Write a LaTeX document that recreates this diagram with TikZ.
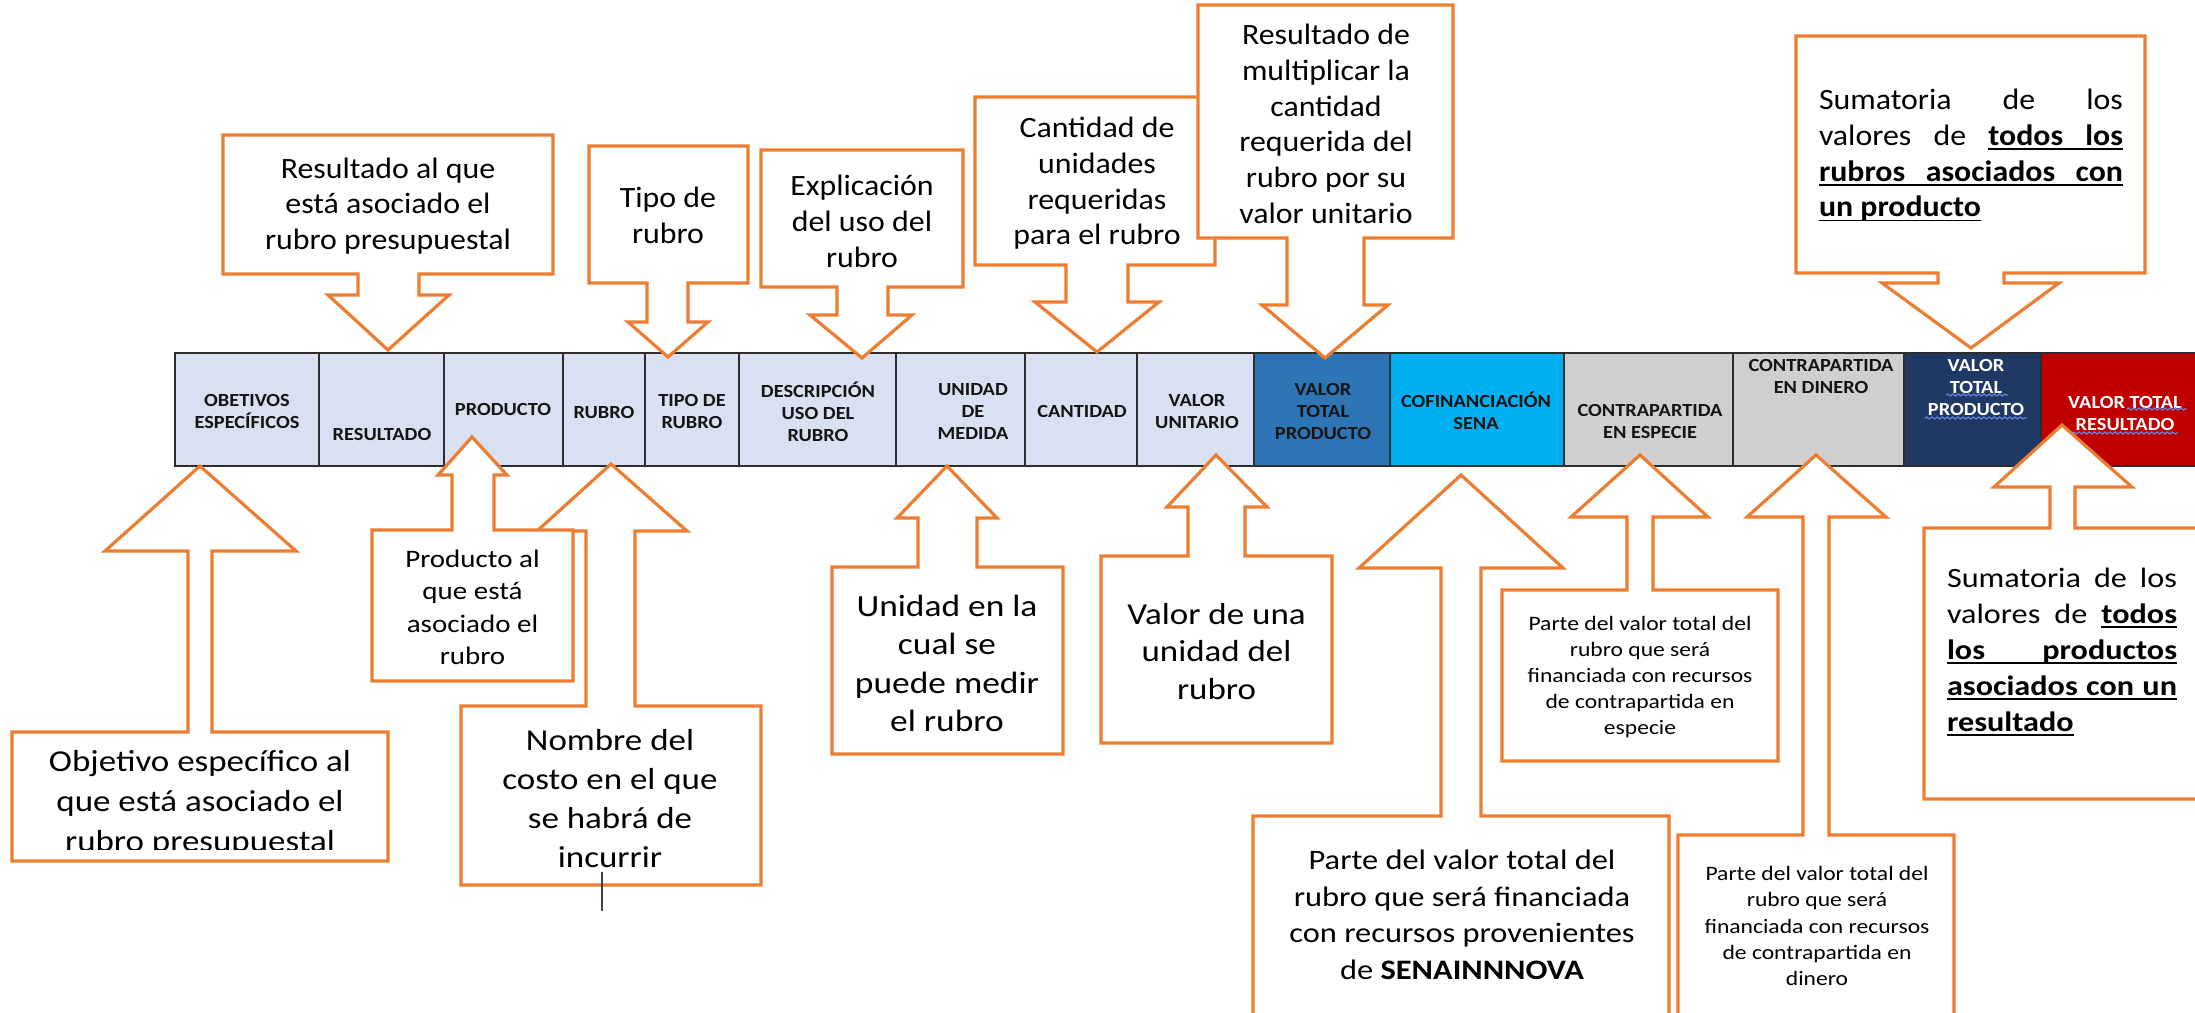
\documentclass[tikz,border=0pt]{standalone}
\usepackage{fontspec}
\setmainfont{Carlito}
\newfontfamily\tabf[FakeStretch=1.1]{Carlito}
\newfontfamily\topf[FakeStretch=1.08]{Carlito}
\newfontfamily\botf[FakeStretch=1.15]{Carlito}
\usetikzlibrary{decorations.pathmorphing}
\definecolor{orng}{RGB}{237,125,49}
\definecolor{lav}{RGB}{217,224,242}
\definecolor{midblue}{RGB}{46,117,182}
\definecolor{cyanb}{RGB}{0,176,240}
\definecolor{greyc}{RGB}{208,206,206}
\definecolor{navyc}{RGB}{32,56,100}
\definecolor{redc}{RGB}{192,0,0}
\definecolor{tabline}{RGB}{45,45,45}
\definecolor{squig}{RGB}{100,130,220}
\newcommand\setfs[2]{\fontsize{#1}{#2}\selectfont}
% justified-line helpers (own underline)
\newsavebox\ulbox
\newcommand\js{\hskip 0.23em plus 1fil\relax}
\newcommand\jus{\leaders\hrule height -1.3pt depth 2.2pt\hskip 0.23em plus 1fil\relax}
\newcommand\uw[1]{\sbox\ulbox{#1}\rlap{\vrule height -1.3pt depth 2.2pt width \wd\ulbox}\usebox\ulbox}
\tikzset{
  callout/.style={draw=orng, fill=white, line width=1.6pt, line join=miter},
  tcell/.style={draw=tabline, line width=1pt},
  celltxt/.style={align=center, inner sep=0pt, text=black!92, font={\tabf\setfs{9.25pt}{11pt}\bfseries}},
  toptxt/.style={align=center, inner sep=0pt, text=black, font={\topf\setfs{14.75pt}{17.85pt}}},
  bottxt/.style={align=center, inner sep=0pt, text=black},
  wavy/.style={draw=squig, line width=0.6pt, decorate, decoration={snake, amplitude=0.5pt, segment length=2.6pt}}
}
\begin{document}
\begin{tikzpicture}[x=0.5pt, y=-0.5pt]
\useasboundingbox (0,0) rectangle (2195,1012);
\clip (0,0) rectangle (2195,1012);
\fill[white] (0,0) rectangle (2195,1012);

% ---- table cells ----
\foreach \a/\b/\c in {175/319/lav, 319/444/lav, 444/563/lav, 563/645/lav, 645/739/lav, 739/896/lav, 896/1025/lav, 1025/1137/lav, 1137/1254/lav, 1254/1390/midblue, 1390/1564/cyanb, 1564/1733/greyc, 1733/1904/greyc, 1904/2041/navyc, 2041/2210/redc}
  \filldraw[tcell, fill=\c] (\a,353) rectangle (\b,466);

\node[celltxt] (h1) at (247,411) {OBETIVOS\\ESPECÍFICOS};
\node[celltxt] (h2) at (382,434) {RESULTADO};
\node[celltxt] (h3) at (503,409) {PRODUCTO};
\node[celltxt] (h4) at (604,412) {RUBRO};
\node[celltxt] (h5) at (692,411) {TIPO DE\\RUBRO};
\node[celltxt] (h6) at (818,411.5) {DESCRIPCIÓN\\USO DEL\\RUBRO};
\node[celltxt] (h7) at (973,411) {UNIDAD\\DE\\MEDIDA};
\node[celltxt] (h8) at (1082,411) {CANTIDAD};
\node[celltxt] (h9) at (1197,411) {VALOR\\UNITARIO};
\node[celltxt] (h10) at (1323,411) {VALOR\\TOTAL\\PRODUCTO};
\node[celltxt] (h11) at (1476,411) {COFINANCIACIÓN\\SENA};
\node[celltxt] (h12) at (1650,421.5) {CONTRAPARTIDA\\EN ESPECIE};
\node[celltxt] (h13) at (1821,376) {CONTRAPARTIDA\\EN DINERO};
\node[celltxt, text=white] (h14) at (1976,387.5) {VALOR\\TOTAL\\PRODUCTO};
\node[celltxt, text=white] (h15) at (2125,413) {VALOR TOTAL\\RESULTADO};

% spell-check squiggles
\draw[wavy] (1946,395) -- (2008,395);
\draw[wavy] (1925,418) -- (2027,418);
\draw[wavy] (2127,409) -- (2187,409);
\draw[wavy] (2072,433) -- (2178,433);

% ---- top callouts (pointing down) ----
\draw[callout] (223,135) -- (553,135) -- (553,274) -- (419,274) -- (419,295) -- (449,295) -- (388,350) -- (328,295) -- (358,295) -- (358,274) -- (223,274) -- cycle;
\draw[callout] (589,146) -- (748,146) -- (748,283) -- (688,283) -- (688,322) -- (708,322) -- (668,357) -- (628,322) -- (647,322) -- (647,283) -- (589,283) -- cycle;
\draw[callout] (761,150) -- (963,150) -- (963,287) -- (888,287) -- (888,315) -- (912,315) -- (862,358) -- (810,315) -- (837,315) -- (837,287) -- (761,287) -- cycle;
\draw[callout] (975,97) -- (1215,97) -- (1215,265) -- (1128,265) -- (1128,302) -- (1159,302) -- (1097,352) -- (1035,302) -- (1066,302) -- (1066,265) -- (975,265) -- cycle;
\draw[callout] (1198,5) -- (1453,5) -- (1453,238) -- (1364,238) -- (1364,305) -- (1388,305) -- (1325,358) -- (1262,305) -- (1287,305) -- (1287,238) -- (1198,238) -- cycle;
\draw[callout] (1796,36) -- (2145,36) -- (2145,273) -- (2004,273) -- (2004,283) -- (2059,283) -- (1971,348) -- (1882,283) -- (1938,283) -- (1938,273) -- (1796,273) -- cycle;

\node[toptxt] (t1) at (388,206) {Resultado al que\\está asociado el\\rubro presupuestal};
\node[toptxt] (t2) at (668,215.5) {Tipo de\\rubro};
\node[toptxt] (t3) at (862,221.5) {Explicación\\del uso del\\rubro};
\node[toptxt] (t4) at (1097,183.5) {Cantidad de\\unidades\\requeridas\\para el rubro};
\node[toptxt] (t5) at (1326,124) {Resultado de\\multiplicar la\\cantidad\\requerida del\\rubro por su\\valor unitario};
\node[toptxt, align=left] (t6) at (1971,155.5) {%
  \makebox[152pt][s]{Sumatoria\js de\js los}\\
  \makebox[152pt][s]{valores\js de\js \textbf{\uw{todos}\jus\uw{los}}}\\
  \makebox[152pt][s]{\textbf{\uw{rubros}\jus\uw{asociados}\jus\uw{con}}}\\
  \makebox[152pt][l]{\textbf{\uw{un producto}}}};

% ---- bottom callouts (pointing up) ----
\draw[callout] (12,732) -- (188,732) -- (188,551) -- (105,551) -- (200,466) -- (296,551) -- (212,551) -- (212,732) -- (388,732) -- (388,861) -- (12,861) -- cycle;
\draw[callout] (461,706) -- (586,706) -- (586,531) -- (537,531) -- (611,464) -- (687,531) -- (635,531) -- (635,706) -- (761,706) -- (761,885) -- (461,885) -- cycle;
\draw[callout] (372,530) -- (452,530) -- (452,475) -- (438,475) -- (472,437) -- (507,475) -- (494,475) -- (494,530) -- (573,530) -- (573,681) -- (372,681) -- cycle;
\draw[callout] (832,567) -- (918,567) -- (918,518) -- (897,518) -- (947,466) -- (997,518) -- (977,518) -- (977,567) -- (1063,567) -- (1063,754) -- (832,754) -- cycle;
\draw[callout] (1101,556) -- (1188,556) -- (1188,507) -- (1167,507) -- (1216,455) -- (1267,507) -- (1245,507) -- (1245,556) -- (1332,556) -- (1332,743) -- (1101,743) -- cycle;
\draw[callout] (1253,816) -- (1441,816) -- (1441,568) -- (1359,568) -- (1461,475) -- (1563,568) -- (1481,568) -- (1481,816) -- (1669,816) -- (1669,1030) -- (1253,1030) -- cycle;
\draw[callout] (1502,590) -- (1627,590) -- (1627,517) -- (1571,517) -- (1640,455) -- (1708,517) -- (1653,517) -- (1653,590) -- (1778,590) -- (1778,761) -- (1502,761) -- cycle;
\draw[callout] (1678,835) -- (1803,835) -- (1803,517) -- (1747,517) -- (1816,455) -- (1886,517) -- (1829,517) -- (1829,835) -- (1954,835) -- (1954,1030) -- (1678,1030) -- cycle;
\draw[callout] (1924,528) -- (2050,528) -- (2050,487) -- (1994,487) -- (2062,425) -- (2132,487) -- (2075,487) -- (2075,528) -- (2215,528) -- (2215,799) -- (1924,799) -- cycle;

\begin{scope}
  \clip (14,734) rectangle (386,849);
  \node[bottxt, font={\botf\setfs{15.2pt}{20pt}}] (b7) at (200,803) {Objetivo específico al\\que está asociado el\\rubro presupuestal};
\end{scope}
\node[bottxt, font={\botf\setfs{12.6pt}{16.25pt}}] (b8) at (472.5,607.5) {Producto al\\que está\\asociado el\\rubro};
\node[bottxt, font={\botf\setfs{15.2pt}{19.5pt}}] (b9) at (610,798.5) {Nombre del\\costo en el que\\se habrá de\\incurrir};
\node[bottxt, font={\botf\setfs{15.4pt}{19.25pt}}] (b10) at (947,663.5) {Unidad en la\\cual se\\puede medir\\el rubro};
\node[bottxt, font={\botf\setfs{15.2pt}{18.75pt}}] (b11) at (1216.5,651.5) {Valor de una\\unidad del\\rubro};
\node[bottxt, font={\botf\setfs{14.1pt}{18.25pt}}] (b12) at (1462,915) {Parte del valor total del\\rubro que será financiada\\con recursos provenientes\\de \textbf{SENAINNNOVA}};
\node[bottxt, font={\botf\setfs{10.25pt}{12.9pt}}] (b13) at (1640,677) {Parte del valor total del\\rubro que será\\financiada con recursos\\de contrapartida en\\especie};
\node[bottxt, font={\botf\setfs{10.25pt}{13.1pt}}] (b14) at (1817,926) {Parte del valor total del\\rubro que será\\financiada con recursos\\de contrapartida en\\dinero};
\node[bottxt, align=left, font={\botf\setfs{14pt}{18pt}}] (b15) at (2062,652) {%
  \makebox[115pt][s]{Sumatoria\js de\js los}\\
  \makebox[115pt][s]{valores\js de\js \textbf{\uw{todos}}}\\
  \makebox[115pt][s]{\textbf{\uw{los}\jus\uw{productos}}}\\
  \makebox[115pt][s]{\textbf{\uw{asociados}\jus\uw{con}\jus\uw{un}}}\\
  \makebox[115pt][l]{\textbf{\uw{resultado}}}};

% text cursor mark
\draw[black!75, line width=0.6pt] (602,872) -- (602,911);
\end{tikzpicture}
\end{document}
